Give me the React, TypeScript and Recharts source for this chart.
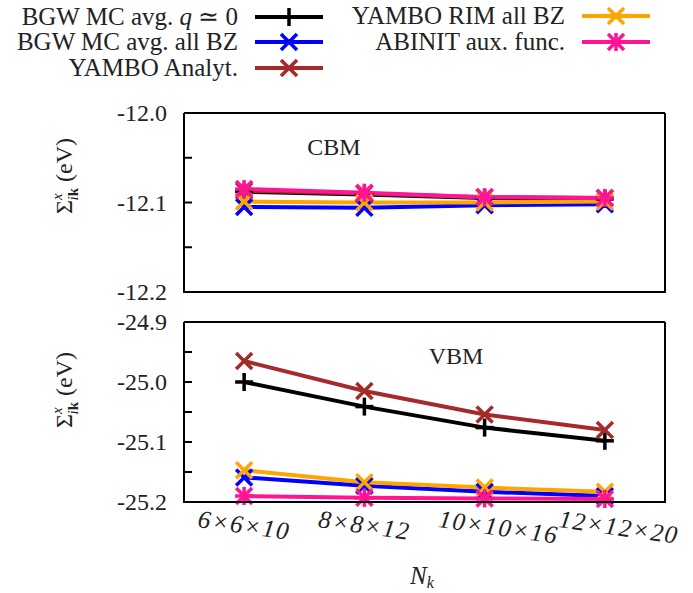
import React from 'react';
import { LineChart, Line, XAxis, YAxis } from 'recharts';

// k-point grids
const categories = ['6×6×10', '8×8×12', '10×10×16', '12×12×20'];
const gridIndex = [1, 2, 3, 4];

// CBM panel (eV)
const cbmBgwQ0 = [-12.088, -12.091, -12.095, -12.096];
const cbmBgwAll = [-12.105, -12.106, -12.103, -12.102];
const cbmYamboAnalyt = [-12.087, -12.09, -12.094, -12.095];
const cbmYamboRim = [-12.099, -12.1, -12.1, -12.099];
const cbmAbinit = [-12.085, -12.089, -12.094, -12.095];

// VBM panel (eV)
const vbmBgwQ0 = [-25.0, -25.041, -25.076, -25.098];
const vbmBgwAll = [-25.159, -25.173, -25.183, -25.19];
const vbmYamboAnalyt = [-24.965, -25.015, -25.054, -25.08];
const vbmYamboRim = [-25.147, -25.167, -25.176, -25.183];
const vbmAbinit = [-25.19, -25.193, -25.194, -25.195];

const cbmTicks = [-12.2, -12.15, -12.1, -12.05, -12.0];
const vbmTicks = [-25.2, -25.15, -25.1, -25.05, -25.0, -24.95, -24.9];
const xDomain: [number, number] = [0.5, 4.5];

type MarkerKind = 'plus' | 'cross' | 'star';

const series: { key: string; name: string; color: string; marker: MarkerKind }[] = [
  { key: 'bgwQ0', name: 'BGW MC avg. q ≃ 0', color: '#000000', marker: 'plus' },
  { key: 'bgwAll', name: 'BGW MC avg. all BZ', color: '#0000ff', marker: 'cross' },
  { key: 'yamboAnalyt', name: 'YAMBO Analyt.', color: '#a52a2a', marker: 'cross' },
  { key: 'yamboRim', name: 'YAMBO RIM all BZ', color: '#ffa500', marker: 'cross' },
  { key: 'abinit', name: 'ABINIT aux. func.', color: '#ff1493', marker: 'star' },
];

const cbmData = gridIndex.map((x, i) => ({
  x,
  bgwQ0: cbmBgwQ0[i],
  bgwAll: cbmBgwAll[i],
  yamboAnalyt: cbmYamboAnalyt[i],
  yamboRim: cbmYamboRim[i],
  abinit: cbmAbinit[i],
}));

const vbmData = gridIndex.map((x, i) => ({
  x,
  bgwQ0: vbmBgwQ0[i],
  bgwAll: vbmBgwAll[i],
  yamboAnalyt: vbmYamboAnalyt[i],
  yamboRim: vbmYamboRim[i],
  abinit: vbmAbinit[i],
}));

const FONT = "'Liberation Serif'";
const TEXT = '#222';
const AXIS = { stroke: '#000', strokeWidth: 2 };

// layout of the two panels (page pixels)
const W = 693;
const PLOT_LEFT = 184;
const PLOT_RIGHT = 665;
const panelBottoms = [292, 502];

const Marker = ({ cx, cy, kind, color }: { cx: number; cy: number; kind: MarkerKind; color: string }) => {
  const r = 8;
  const plus = (
    <>
      <line x1={cx - r - 1} y1={cy} x2={cx + r + 1} y2={cy} />
      <line x1={cx} y1={cy - r - 1} x2={cx} y2={cy + r + 1} />
    </>
  );
  const cross = (
    <>
      <line x1={cx - r} y1={cy - r} x2={cx + r} y2={cy + r} />
      <line x1={cx - r} y1={cy + r} x2={cx + r} y2={cy - r} />
    </>
  );
  return (
    <g stroke={color} strokeWidth={3.5}>
      {kind !== 'cross' && plus}
      {kind !== 'plus' && cross}
    </g>
  );
};

const tickLabel = (v: number) =>
  Math.abs(v * 10 - Math.round(v * 10)) < 1e-6 ? v.toFixed(1) : '';

const YTick = (props: any) => {
  const { x, y, payload } = props;
  return (
    <text x={x} y={y} dy={8} textAnchor="end" fontFamily={FONT} fontSize={24} fill={TEXT}>
      {tickLabel(payload.value)}
    </text>
  );
};

const NkTick = (props: any) => {
  const { x, y, payload } = props;
  const tx = x - 47;
  const ty = y + 33;
  return (
    <text
      x={tx}
      y={ty}
      transform={`rotate(8, ${tx}, ${ty})`}
      fontFamily={FONT}
      fontSize={25}
      fontStyle="italic"
      letterSpacing={1.5}
      fill={TEXT}
    >
      {categories[payload.value - 1]}
    </text>
  );
};

const Panel = ({
  data,
  ticks,
  domain,
  top,
  height,
  margin,
  bottomAxisHeight,
}: {
  data: any[];
  ticks: number[];
  domain: [number, number];
  top: number;
  height: number;
  margin: { top: number; right: number; bottom: number; left: number };
  bottomAxisHeight: number;
}) => (
  <div style={{ position: 'absolute', left: 0, top, width: W, height }}>
    <LineChart width={W} height={height} data={data} margin={margin}>
      <XAxis
        type="number"
        dataKey="x"
        domain={xDomain}
        ticks={gridIndex}
        height={bottomAxisHeight}
        tickSize={-8}
        tickMargin={0}
        axisLine={AXIS}
        tickLine={AXIS}
        interval={0}
        tick={bottomAxisHeight > 1 ? <NkTick /> : false}
      />
      <XAxis
        xAxisId="top"
        orientation="top"
        type="number"
        domain={xDomain}
        ticks={gridIndex}
        height={1}
        tickSize={-8}
        axisLine={AXIS}
        tickLine={AXIS}
        interval={0}
        tick={false}
      />
      <YAxis
        type="number"
        domain={domain}
        ticks={ticks}
        width={60}
        tickSize={-8}
        tickMargin={25}
        axisLine={AXIS}
        tickLine={AXIS}
        tick={<YTick />}
        interval={0}
      />
      <YAxis
        yAxisId="right"
        orientation="right"
        type="number"
        domain={domain}
        ticks={ticks}
        width={1}
        tickSize={-8}
        axisLine={AXIS}
        tickLine={AXIS}
        tick={false}
        interval={0}
      />
      {series.map((s) => (
        <Line
          key={s.key}
          dataKey={s.key}
          name={s.name}
          stroke={s.color}
          strokeWidth={4}
          isAnimationActive={false}
          activeDot={false}
          dot={(p: any) => (
            <Marker key={`${s.key}-${p.index}`} cx={p.cx} cy={p.cy} kind={s.marker} color={s.color} />
          )}
        />
      ))}
    </LineChart>
  </div>
);

const YLabel = ({ cx, cy }: { cx: number; cy: number }) => (
  <text
    transform={`rotate(-90, ${cx}, ${cy})`}
    x={cx}
    y={cy + 8}
    textAnchor="middle"
    fontFamily={FONT}
    fontSize={24}
    fill={TEXT}
  >
    Σ
    <tspan fontSize={15} fontStyle="italic" dy={-10}>
      x
    </tspan>
    <tspan fontSize={15} dx={-7} dy={16}>
      <tspan fontStyle="italic">i</tspan>
      <tspan fontWeight="bold">k</tspan>
    </tspan>
    <tspan dy={-6}> (eV)</tspan>
  </text>
);

const legendPos = [
  { x: 238, y: 17 },
  { x: 238, y: 42 },
  { x: 238, y: 68 },
  { x: 565, y: 16 },
  { x: 565, y: 42 },
];

const LegendName = ({ name }: { name: string }) => {
  if (name.includes('q ≃')) {
    const [a, b] = name.split('q');
    return (
      <>
        {a}
        <tspan fontStyle="italic">q</tspan>
        {b}
      </>
    );
  }
  return <>{name}</>;
};

const Overlay = () => (
  <svg
    width={W}
    height={593}
    style={{ position: 'absolute', left: 0, top: 0, pointerEvents: 'none', zIndex: 5 }}
  >
    {/* lower edges of the panel frames */}
    {panelBottoms.map((y) => (
      <line key={y} x1={PLOT_LEFT - 1} y1={y} x2={PLOT_RIGHT + 1} y2={y} stroke="#000" strokeWidth={2} />
    ))}
    {series.map((s, i) => {
      const p = legendPos[i];
      return (
        <g key={s.key}>
          <text x={p.x} y={p.y + 8} textAnchor="end" fontFamily={FONT} fontSize={25} fill={TEXT}>
            <LegendName name={s.name} />
          </text>
          <line x1={p.x + 17} y1={p.y} x2={p.x + 85} y2={p.y} stroke={s.color} strokeWidth={4} />
          <Marker cx={p.x + 51} cy={p.y} kind={s.marker} color={s.color} />
        </g>
      );
    })}
    <text x={334} y={155} textAnchor="middle" fontFamily={FONT} fontSize={24} fill={TEXT}>
      CBM
    </text>
    <text x={456} y={364} textAnchor="middle" fontFamily={FONT} fontSize={24} fill={TEXT}>
      VBM
    </text>
    <YLabel cx={64} cy={176} />
    <YLabel cx={64} cy={390} />
    <text x={410} y={584} fontFamily={FONT} fontSize={25} fill={TEXT}>
      <tspan fontStyle="italic">N</tspan>
      <tspan fontSize={16} fontStyle="italic" dy={4}>
        k
      </tspan>
    </text>
  </svg>
);

export default function App() {
  return (
    <div style={{ position: 'absolute', left: 0, top: 0, width: W, height: 593, background: '#fff' }}>
      <Panel
        data={cbmData}
        ticks={cbmTicks}
        domain={[-12.2, -12.0]}
        top={0}
        height={312}
        margin={{ top: 112, right: 27, bottom: 19, left: 124 }}
        bottomAxisHeight={1}
      />
      <Panel
        data={vbmData}
        ticks={vbmTicks}
        domain={[-25.2, -24.9]}
        top={300}
        height={293}
        margin={{ top: 21, right: 27, bottom: 0, left: 124 }}
        bottomAxisHeight={91}
      />
      <Overlay />
    </div>
  );
}
